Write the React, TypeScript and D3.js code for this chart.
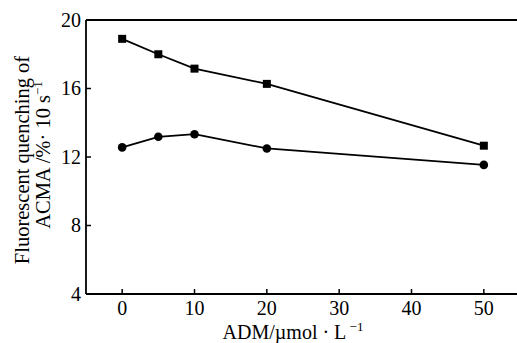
import * as React from 'react';
import * as d3 from 'd3';

const concentrations = [0, 5, 10, 20, 50];
const squareSeries = [18.9, 18.0, 17.16, 16.27, 12.66];
const circleSeries = [12.56, 13.18, 13.33, 12.5, 11.54];
const xTicks = [0, 10, 20, 30, 40, 50];
const yTicks = [4, 8, 12, 16, 20];

const App = () => {
  const ref = React.useRef<SVGSVGElement>(null);

  React.useEffect(() => {
    const width = 517;
    const height = 343;
    const font = '"Liberation Serif", "Times New Roman", serif';

    const svg = d3.select(ref.current).attr('width', width).attr('height', height);
    svg.selectAll('*').remove();

    const x = d3.scaleLinear().domain([-5, 55]).range([86, 520]);
    const y = d3.scaleLinear().domain([4, 20]).range([294, 20]);

    // frame: left, bottom, top (right side falls outside the picture)
    const frame = svg.append('g').attr('stroke', '#000').attr('stroke-width', 1.8).attr('fill', 'none');
    frame.append('line').attr('x1', x(-5)).attr('x2', x(-5)).attr('y1', y(20)).attr('y2', y(4));
    frame.append('line').attr('x1', x(-5)).attr('x2', x(55)).attr('y1', y(4)).attr('y2', y(4));
    frame.append('line').attr('x1', x(-5)).attr('x2', x(55)).attr('y1', y(20)).attr('y2', y(20));

    // ticks pointing inward
    svg.append('g').selectAll('line').data(xTicks).enter().append('line')
      .attr('x1', d => x(d)).attr('x2', d => x(d))
      .attr('y1', y(4)).attr('y2', y(4) - 5)
      .attr('stroke', '#000').attr('stroke-width', 1.5);
    svg.append('g').selectAll('line').data(yTicks).enter().append('line')
      .attr('x1', x(-5)).attr('x2', x(-5) + 5)
      .attr('y1', d => y(d)).attr('y2', d => y(d))
      .attr('stroke', '#000').attr('stroke-width', 1.5);

    svg.append('g').selectAll('text').data(xTicks).enter().append('text')
      .attr('x', d => x(d)).attr('y', 315)
      .attr('text-anchor', 'middle')
      .attr('font-family', font).attr('font-size', 20)
      .text(d => d);
    svg.append('g').selectAll('text').data(yTicks).enter().append('text')
      .attr('x', 81).attr('y', d => y(d)).attr('dy', '0.33em')
      .attr('text-anchor', 'end')
      .attr('font-family', font).attr('font-size', 20)
      .text(d => d);

    // x title
    const xt = svg.append('text')
      .attr('x', 293).attr('y', 339)
      .attr('text-anchor', 'middle')
      .attr('font-family', font).attr('font-size', 20);
    xt.append('tspan').text('ADM/\u00b5mol \u00b7 L');
    xt.append('tspan').attr('dy', -8).attr('font-size', 13).text(' \u22121');

    // y title, two lines
    const yc = (y(4) + y(20)) / 2;
    svg.append('text')
      .attr('transform', `translate(29,${yc + 3}) rotate(-90)`)
      .attr('text-anchor', 'middle')
      .attr('font-family', font).attr('font-size', 20.5)
      .text('Fluorescent quenching of');
    const yt2 = svg.append('text')
      .attr('transform', `translate(50,${yc - 2}) rotate(-90)`)
      .attr('text-anchor', 'middle')
      .attr('font-family', font).attr('font-size', 20.5);
    yt2.append('tspan').text('ACMA /%\u00b7 10 s');
    yt2.append('tspan').attr('dy', -8).attr('font-size', 13).text('\u22121');

    const line = d3.line<number>()
      .x((d, i) => x(concentrations[i]))
      .y(d => y(d));

    svg.append('path').datum(squareSeries)
      .attr('d', line).attr('fill', 'none').attr('stroke', '#000').attr('stroke-width', 1.8);
    svg.append('path').datum(circleSeries)
      .attr('d', line).attr('fill', 'none').attr('stroke', '#000').attr('stroke-width', 1.8);

    svg.append('g').selectAll('rect').data(squareSeries).enter().append('rect')
      .attr('x', (d, i) => x(concentrations[i]) - 4)
      .attr('y', d => y(d) - 4)
      .attr('width', 8).attr('height', 8)
      .attr('fill', '#000');
    svg.append('g').selectAll('circle').data(circleSeries).enter().append('circle')
      .attr('cx', (d, i) => x(concentrations[i]))
      .attr('cy', d => y(d))
      .attr('r', 4.3)
      .attr('fill', '#000');
  }, []);

  return (
    <svg ref={ref} style={{ position: 'absolute', left: 0, top: 0, background: '#fff' }}></svg>
  );
};

export default App;
